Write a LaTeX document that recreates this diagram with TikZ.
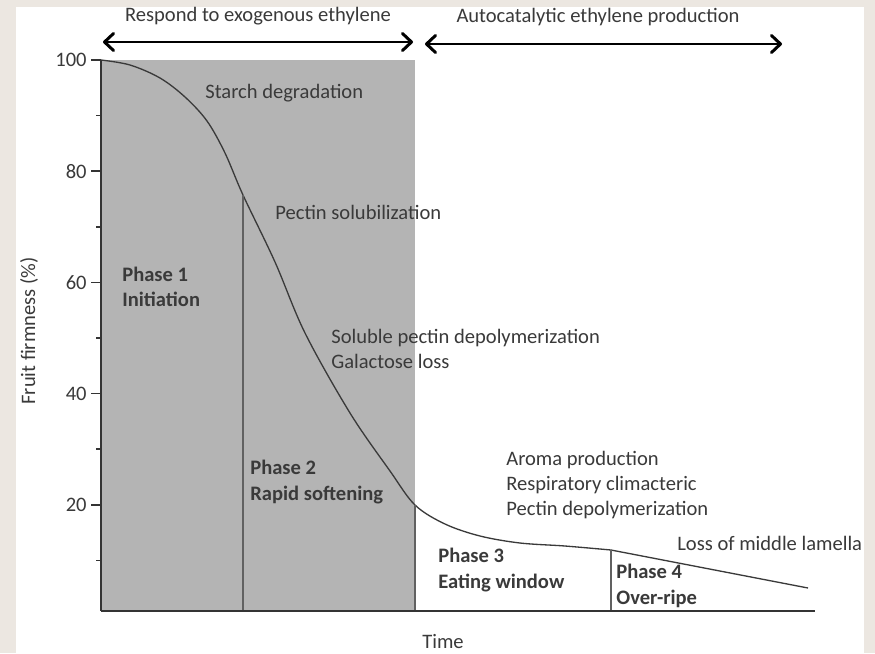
\documentclass[tikz,border=0pt]{standalone}
\usepackage{fontspec}
\setmainfont{Carlito}
\usetikzlibrary{positioning,arrows.meta}
\definecolor{frame}{RGB}{236,231,225}
\definecolor{boxgray}{RGB}{180,180,180}
\definecolor{ink}{RGB}{58,58,58}

\begin{document}
\begin{tikzpicture}[
  x = 0.02cm,
  y = -0.02cm,
  txt/.style = {
    anchor = west,
    inner sep = 0pt,
    text = ink,
    align = left,
    font = \fontsize{11.7}{14.4}\selectfont,
  },
  phase/.style = {
    txt,
    font = \fontsize{11.7}{14.4}\selectfont\bfseries,
  },
  axis/.style = {draw=ink!90!black, line width=0.85pt},
  divider/.style = {draw=ink!80, line width=0.7pt},
  span/.style = {draw=black, line width=1.7pt, <->},
  >={Straight Barb[length=1.8mm,width=3.4mm,round]},
]

  % frame and panel
  \useasboundingbox (0,0) rectangle (875,653);
  \fill[frame] (0,0) rectangle (875,653);
  \fill[white] (16,7) rectangle (864,653);

  % ethylene response phases
  \coordinate (a1l) at (103,42);
  \coordinate (a1r) at (413,42);
  \coordinate (a2l) at (425,44);
  \coordinate (a2r) at (782,44);
  \draw[span] (a1l) -- (a1r);
  \draw[span] (a2l) -- (a2r);
  \node[txt,anchor=center] (resp) at (258,16) {Respond to exogenous ethylene};
  \node[txt,anchor=center] (auto) at (598,17) {Autocatalytic ethylene production};

  % grey part
  \fill[boxgray] (101,60) rectangle (415,611);

  % firmness curve
  \coordinate (c0) at (101,60);
  \coordinate (c2) at (243,195);
  \coordinate (c3) at (415,505);
  \coordinate (c4) at (611,550);
  \coordinate (c5) at (808,588);
  \draw[draw=ink, line width=0.75pt] plot[smooth, tension=0.55] coordinates {
    (c0) (130,65) (160,78) (185,97) (207,121) (225,153) (c2) (275,262)
    (305,333) (350,413) (390,471) (c3) (445,524) (480,536) (520,543)
    (565,546) (c4)} -- (c5);

  % phase borders
  \coordinate (b2) at (243,611);
  \coordinate (b3) at (415,611);
  \coordinate (b4) at (611,611);
  \path[divider] (c2) edge (b2);
  \path[divider] (c3) edge (b3);
  \path[divider] (c4) edge (b4);

  % axes
  \coordinate (o) at (101,611);
  \coordinate (ytop) at (101,60);
  \coordinate (xend) at (815,611);
  \path[axis] (ytop) edge (o);
  \path[axis] (o) edge (xend);
  \foreach \v in {20,40,...,100} {
    \draw[axis] (91,{616-5.56*\v}) -- (101,{616-5.56*\v});
    \node[txt,anchor=east] (y\v) at (87,{616-5.56*\v}) {\v};
  }
  \foreach \v in {10,30,...,90}
    \draw[axis] (96,{616-5.56*\v}) -- (101,{616-5.56*\v});
  \node[txt,anchor=center,rotate=90] (ylab) at (29,331) {Fruit firmness (\%)};
  \node[txt,anchor=center] (xlab) at (443,641) {Time};

  % processes
  \node[txt] (starch) at (205,93) {Starch degradation};
  \node[txt] (pectin) at (275,212) {Pectin solubilization};
  \node[txt] (soluble) at (331,349) {Soluble pectin depolymerization\\Galactose loss};
  \node[txt] (aroma) at (506,485) {Aroma production\\Respiratory climacteric\\Pectin depolymerization};
  \node[txt] (lamella) at (677,543) {Loss of middle lamella};

  % phases
  \node[phase] (ph1) at (122,287) {Phase 1\\Initiation};
  \node[phase] (ph2) at (250,482) {Phase 2\\Rapid softening};
  \node[phase] (ph3) at (438,570) {Phase 3\\Eating window};
  \node[phase] (ph4) at (616,586) {Phase 4\\Over-ripe};
\end{tikzpicture}
\end{document}
